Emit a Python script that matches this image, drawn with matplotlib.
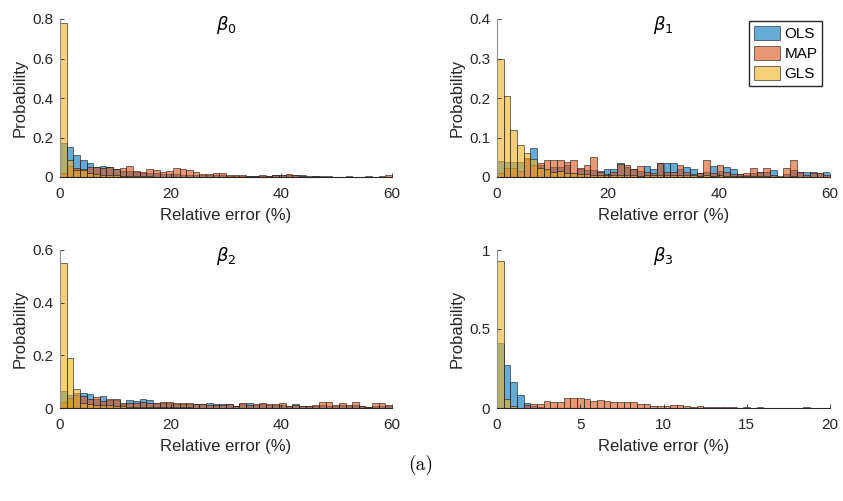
import matplotlib
matplotlib.use("Agg")
import matplotlib.pyplot as plt
import numpy as np
from matplotlib.colors import to_rgba

plt.rcParams['font.family'] = ['Liberation Sans', 'DejaVu Sans']

# bin widths (relative error %) per panel
bin_w = [1.2, 1.2, 1.2, 0.4]
x_max = [60, 60, 60, 20]
y_max = [0.8, 0.4, 0.6, 1.0]
x_ticks = [[0, 20, 40, 60], [0, 20, 40, 60], [0, 20, 40, 60], [0, 5, 10, 15, 20]]
y_ticks = [[0, 0.2, 0.4, 0.6, 0.8], [0, 0.1, 0.2, 0.3, 0.4], [0, 0.2, 0.4, 0.6], [0, 0.5, 1]]
y_tick_labels = [["0", "0.2", "0.4", "0.6", "0.8"], ["0", "0.1", "0.2", "0.3", "0.4"],
                 ["0", "0.2", "0.4", "0.6"], ["0", "0.5", "1"]]
titles = [r'$\beta_0$', r'$\beta_1$', r'$\beta_2$', r'$\beta_3$']
methods = ["OLS", "MAP", "GLS"]

# beta_0
b0_ols = [0.17, 0.15, 0.11, 0.086, 0.073, 0.05, 0.057, 0.05, 0.039, 0.03,
          0.028, 0.025, 0.022, 0.02, 0.018, 0.016, 0.015, 0.014, 0.012, 0.012,
          0.01, 0.01, 0.009, 0.008, 0.008, 0.007, 0.007, 0.006, 0.006, 0.005,
          0.005, 0.004, 0.008, 0.01, 0.01, 0.012, 0.008, 0.003, 0.003, 0.003,
          0.002, 0.002, 0.002, 0.001, 0.001, 0.001, 0.001, 0.001, 0.001, 0.001]
b0_map = [0.02, 0.056, 0.047, 0.04, 0.052, 0.052, 0.045, 0.052, 0.039, 0.047,
          0.056, 0.03, 0.027, 0.04, 0.035, 0.024, 0.03, 0.044, 0.04, 0.037,
          0.024, 0.015, 0.015, 0.019, 0.019, 0.012, 0.012, 0.01, 0.006, 0.005,
          0.008, 0.004, 0.01, 0.012, 0.014, 0.01, 0.003, 0.002, 0.003, 0.002,
          0.003, 0.002, 0.002, 0.003, 0.002, 0.002, 0.003, 0.002, 0.003, 0.008]
b0_gls = [0.78, 0.085, 0.035, 0.035, 0.02, 0.015, 0.01, 0.01, 0.008, 0.006,
          0.005, 0.004, 0.003, 0.003, 0.002, 0.002, 0.002, 0.001, 0.001, 0.001,
          0.001, 0.001, 0, 0, 0, 0, 0, 0, 0, 0,
          0, 0, 0, 0, 0, 0, 0, 0, 0, 0,
          0, 0, 0, 0, 0, 0, 0, 0, 0, 0]

# beta_1
b1_ols = [0.041, 0.037, 0.037, 0.037, 0.045, 0.073, 0.03, 0.018, 0.026, 0.026,
          0.03, 0.009, 0.02, 0.018, 0.018, 0.016, 0.019, 0.019, 0.036, 0.025,
          0.02, 0.015, 0.028, 0.021, 0.035, 0.035, 0.035, 0.02, 0.026, 0.019,
          0.009, 0.012, 0.028, 0.015, 0.026, 0.019, 0.008, 0.006, 0.01, 0.013,
          0.012, 0.018, 0.001, 0.008, 0.018, 0.013, 0.013, 0.013, 0.011, 0.013]
b1_map = [0.009, 0.022, 0.022, 0.015, 0.049, 0.03, 0.036, 0.043, 0.043, 0.043,
          0.037, 0.043, 0.022, 0.03, 0.05, 0.012, 0.008, 0.012, 0.033, 0.03,
          0.02, 0.028, 0.012, 0.01, 0.035, 0.013, 0.013, 0.03, 0.012, 0.008,
          0.009, 0.043, 0.01, 0.03, 0.013, 0.008, 0.008, 0.009, 0.022, 0.013,
          0.022, 0.005, 0.001, 0.022, 0.043, 0.013, 0.006, 0.01, 0.011, 0.005]
b1_gls = [0.30, 0.205, 0.12, 0.08, 0.06, 0.045, 0.024, 0.02, 0.012, 0.015,
          0.01, 0.009, 0.008, 0.007, 0.006, 0.005, 0.004, 0.006, 0.005, 0.004,
          0.004, 0.003, 0.005, 0.004, 0.006, 0.005, 0.004, 0.004, 0.005, 0.006,
          0.003, 0.004, 0.003, 0.004, 0.003, 0.002, 0.003, 0.002, 0.002, 0.003,
          0.002, 0.001, 0.002, 0.001, 0.002, 0.001, 0.001, 0.001, 0.001, 0.001]

# beta_2
b2_ols = [0.066, 0.049, 0.056, 0.056, 0.052, 0.035, 0.046, 0.03, 0.03, 0.015,
          0.03, 0.027, 0.033, 0.03, 0.02, 0.018, 0.02, 0.015, 0.015, 0.016,
          0.015, 0.014, 0.018, 0.015, 0.014, 0.014, 0.009, 0.016, 0.02, 0.013,
          0.016, 0.012, 0.012, 0.012, 0.009, 0.014, 0.007, 0.008, 0.008, 0.01,
          0.009, 0.008, 0.01, 0.008, 0.01, 0.007, 0.005, 0.008, 0.008, 0.009]
b2_map = [0.024, 0.037, 0.05, 0.045, 0.033, 0.04, 0.025, 0.033, 0.033, 0.018,
          0.02, 0.02, 0.022, 0.02, 0.02, 0.022, 0.022, 0.018, 0.018, 0.018,
          0.016, 0.016, 0.012, 0.012, 0.012, 0.014, 0.008, 0.018, 0.012, 0.015,
          0.018, 0.014, 0.014, 0.02, 0.009, 0.01, 0.008, 0.008, 0.011, 0.022,
          0.024, 0.011, 0.018, 0.011, 0.022, 0.008, 0.004, 0.018, 0.018, 0.011]
b2_gls = [0.55, 0.19, 0.071, 0.02, 0.015, 0.012, 0.01, 0.01, 0.008, 0.006,
          0.005, 0.004, 0.004, 0.003, 0.003, 0.003, 0.002, 0.002, 0.002, 0.002,
          0.001, 0, 0, 0, 0, 0, 0, 0, 0, 0,
          0, 0, 0, 0, 0, 0, 0, 0, 0, 0,
          0, 0, 0, 0, 0, 0, 0, 0, 0, 0]

# beta_3
b3_ols = [0.41, 0.272, 0.167, 0.082, 0.03, 0.01, 0.005, 0.002, 0.001, 0,
          0, 0, 0, 0, 0, 0, 0, 0, 0, 0,
          0, 0, 0, 0, 0, 0, 0, 0, 0, 0,
          0, 0, 0, 0, 0, 0, 0, 0, 0, 0,
          0, 0, 0, 0, 0, 0, 0, 0, 0, 0]
b3_map = [0, 0, 0, 0.003, 0.02, 0.027, 0.027, 0.044, 0.036, 0.036,
          0.061, 0.065, 0.065, 0.055, 0.046, 0.05, 0.044, 0.036, 0.036, 0.04,
          0.04, 0.025, 0.025, 0.015, 0.012, 0.012, 0.017, 0.017, 0.012, 0.008,
          0.01, 0.008, 0.006, 0.008, 0.004, 0.005, 0.002, 0.006, 0.002, 0.004,
          0.002, 0.002, 0.001, 0.001, 0.002, 0.001, 0.004, 0.001, 0.001, 0.002]
b3_gls = [0.93, 0.055, 0.01, 0, 0, 0, 0, 0, 0, 0,
          0, 0, 0, 0, 0, 0, 0, 0, 0, 0,
          0, 0, 0, 0, 0, 0, 0, 0, 0, 0,
          0, 0, 0, 0, 0, 0, 0, 0, 0, 0,
          0, 0, 0, 0, 0, 0, 0, 0, 0, 0]

panels = [
    [b0_ols, b0_map, b0_gls],
    [b1_ols, b1_map, b1_gls],
    [b2_ols, b2_map, b2_gls],
    [b3_ols, b3_map, b3_gls],
]

# MATLAB default colour order
colors = [(0, 0.447, 0.741), (0.85, 0.325, 0.098), (0.929, 0.694, 0.125)]
dark = '#262626'

fig = plt.figure(figsize=(8.43, 5.01), dpi=100)
W, H = 843, 501
boxes = [(60, 19, 332, 158), (497, 19, 333, 158),
         (60, 250, 332, 158), (497, 250, 333, 158)]

for i, (x0, y0, w, h) in enumerate(boxes):
    ax = fig.add_axes([x0 / W, 1 - (y0 + h) / H, w / W, h / H])
    for vals, c, name in zip(panels[i], colors, methods):
        vals = np.array(vals)
        left = np.arange(len(vals)) * bin_w[i]
        ax.bar(left, vals, width=bin_w[i], align='edge',
               color=to_rgba(c, 0.6), edgecolor=(0.1, 0.1, 0.1, 0.7),
               linewidth=0.6, label=name)
    ax.set_xlim(0, x_max[i])
    ax.set_ylim(0, y_max[i])
    ax.set_xticks(x_ticks[i])
    ax.set_yticks(y_ticks[i])
    ax.set_yticklabels(y_tick_labels[i])
    for s in ['top', 'right']:
        ax.spines[s].set_visible(False)
    ax.spines['left'].set_color('#909090')
    ax.spines['bottom'].set_color(dark)
    ax.spines['left'].set_linewidth(0.8)
    ax.spines['bottom'].set_linewidth(0.8)
    ax.tick_params(direction='in', length=3, width=0.6, colors=dark,
                   labelsize=11)
    ax.tick_params(axis='x', pad=7)
    ax.tick_params(axis='y', pad=5)
    ax.set_xlabel('Relative error (%)', fontsize=12, color=dark, labelpad=5.5)
    ax.set_ylabel('Probability', fontsize=12, color=dark, labelpad=3)
    ax.text(0.5, 0.965, titles[i], transform=ax.transAxes, ha='center',
            va='center', fontsize=13, color='black')
    ax.patch.set_visible(False)
    if i == 1:
        ax.legend(loc='upper right', bbox_to_anchor=(0.976, 0.985),
                  borderaxespad=0, fancybox=False, framealpha=1,
                  edgecolor=dark, fontsize=11, handlelength=1.7,
                  handleheight=1.05, labelspacing=0.3, handletextpad=0.3,
                  borderpad=0.3)

fig.text(421 / W, 1 - 465 / H, '(a)', ha='center', va='center',
         fontsize=14, fontname='cmr10')

fig.savefig('out.png', dpi=100)
